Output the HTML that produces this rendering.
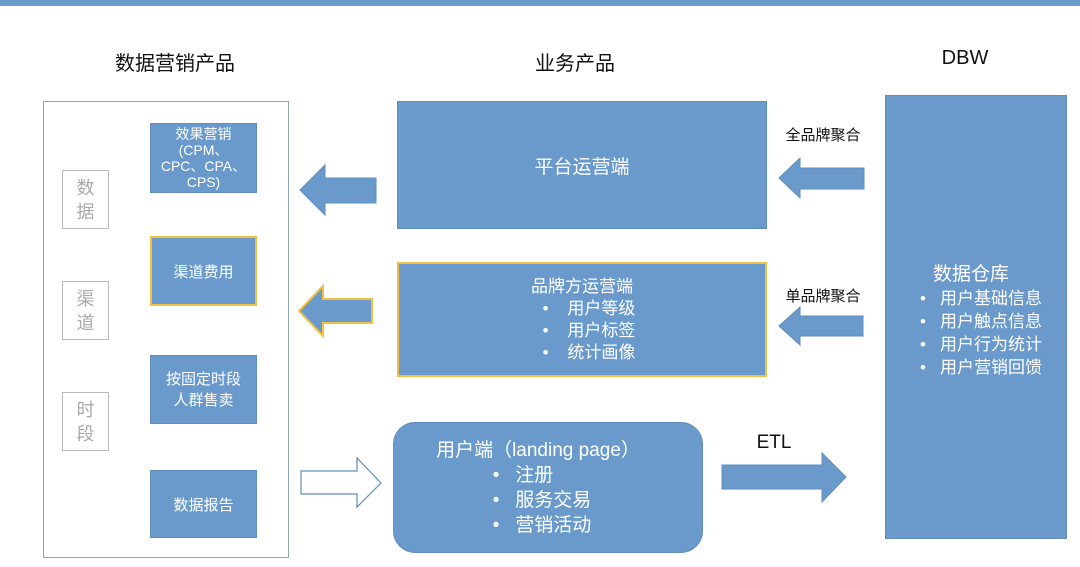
<!DOCTYPE html>
<html><head><meta charset="utf-8"><style>
body{margin:0;width:1080px;height:567px;background:#fff;position:relative;overflow:hidden;font-family:"Liberation Sans","Noto Sans CJK SC",sans-serif}
.a{position:absolute;box-sizing:border-box}
.t{position:absolute;color:#111;font-size:20px;text-align:center;white-space:nowrap}
.b{background:#6a9acb;color:#fff;display:flex;align-items:center;justify-content:center;text-align:center;border:1px solid #5f8dbd}
.g{border:1px solid #bbb;color:#aaa;font-size:18px;line-height:24px;display:flex;align-items:center;justify-content:center;text-align:center}
ul{margin:0;padding:0;list-style:none;text-align:left}
</style></head><body>
<div class="a" style="left:0;top:0;width:1080px;height:6px;background:#6a9acb"></div>
<div class="t" style="left:95px;top:47px;width:160px">数据营销产品</div>
<div class="t" style="left:515px;top:47px;width:120px">业务产品</div>
<div class="t" style="left:915px;top:47px;width:100px">DBW</div>

<div class="a" style="left:43px;top:101px;width:246px;height:457px;border:1px solid #8ca3bd"></div>
<div class="a g" style="left:62px;top:170px;width:47px;height:59px">数<br>据</div>
<div class="a g" style="left:62px;top:281px;width:47px;height:59px">渠<br>道</div>
<div class="a g" style="left:62px;top:392px;width:47px;height:59px">时<br>段</div>

<div class="a b" style="left:150px;top:123px;width:107px;height:70px;font-size:14px;line-height:16px">效果营销<br>(CPM、<br>CPC、CPA、<br>CPS)</div>
<div class="a b" style="left:150px;top:236px;width:107px;height:70px;font-size:15px;border:2px solid #f0c040">渠道费用</div>
<div class="a b" style="left:150px;top:355px;width:107px;height:69px;font-size:15px;line-height:21px">按固定时段<br>人群售卖</div>
<div class="a b" style="left:150px;top:470px;width:107px;height:68px;font-size:15px">数据报告</div>

<div class="a b" style="left:397px;top:101px;width:370px;height:128px;font-size:19px">平台运营端</div>
<div class="a b" style="left:397px;top:262px;width:370px;height:115px;font-size:17px;line-height:22px;border:2px solid #f0c040;flex-direction:column">
<div>品牌方运营端</div>
<ul style="margin-left:14px"><li>•&nbsp;&nbsp;&nbsp;&nbsp;用户等级</li><li>•&nbsp;&nbsp;&nbsp;&nbsp;用户标签</li><li>•&nbsp;&nbsp;&nbsp;&nbsp;统计画像</li></ul></div>
<div class="a b" style="left:393px;top:422px;width:310px;height:131px;border-radius:22px;font-size:19px;line-height:25px;flex-direction:column">
<div style="margin-left:-20px">用户端（landing page）</div>
<ul style="margin-left:-12px"><li>•&nbsp;&nbsp;&nbsp;注册</li><li>•&nbsp;&nbsp;&nbsp;服务交易</li><li>•&nbsp;&nbsp;&nbsp;营销活动</li></ul></div>

<div class="a b" style="left:885px;top:95px;width:182px;height:444px;flex-direction:column;justify-content:flex-start;padding-top:167px">
<div style="font-size:19px;line-height:24px;margin-left:-10px">数据仓库</div>
<ul style="font-size:17px;line-height:23px;margin-left:10px"><li>•&nbsp;&nbsp;&nbsp;用户基础信息</li><li>•&nbsp;&nbsp;&nbsp;用户触点信息</li><li>•&nbsp;&nbsp;&nbsp;用户行为统计</li><li>•&nbsp;&nbsp;&nbsp;用户营销回馈</li></ul></div>

<div class="t" style="left:773px;top:124px;width:100px;font-size:15px">全品牌聚合</div>
<div class="t" style="left:773px;top:285px;width:100px;font-size:15px">单品牌聚合</div>
<div class="t" style="left:752px;top:432px;width:44px;font-size:19px">ETL</div>

<svg class="a" style="left:0;top:0" width="1080" height="567">
<g fill="#6a9acb" stroke="#5f8dbd" stroke-width="1">
<polygon points="300,190 325,165 325,178 376,178 376,203 325,203 325,215"/>
<polygon points="779,178 800,158 800,168 864,168 864,189 800,189 800,198"/>
<polygon points="779,326 800,307 800,316 863,316 863,336 800,336 800,345"/>
<polygon points="846,477 822,453 822,465 722,465 722,489 822,489 822,502"/>
</g>
<polygon points="299,311 323,286 323,299 372,299 372,323 323,323 323,336" fill="#6a9acb" stroke="#f0c040" stroke-width="2"/>
<polygon points="381,483 357,458 357,471 301,471 301,494 357,494 357,507" fill="#fff" stroke="#5f8dbd" stroke-width="1.2"/>
</svg>
</body></html>
